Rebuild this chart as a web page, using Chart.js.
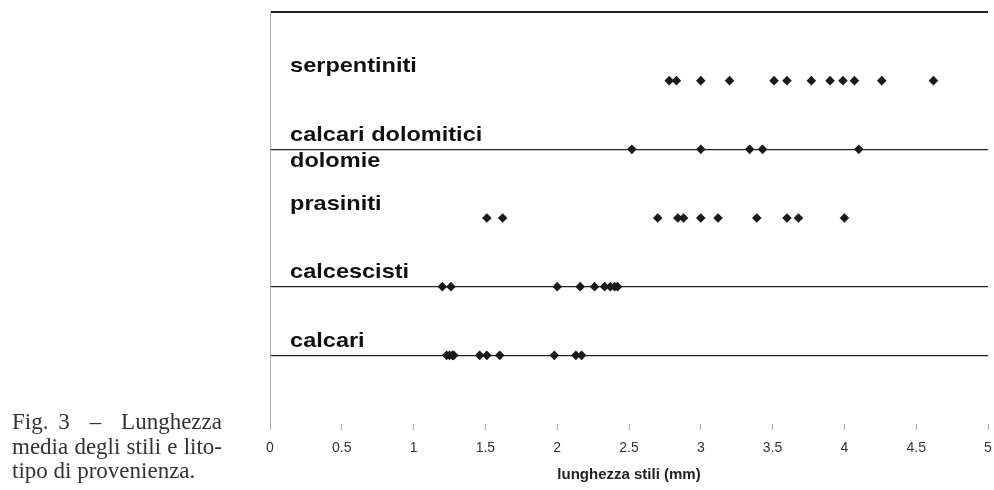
<!DOCTYPE html>
<html>
<head>
<meta charset="utf-8">
<script src="https://cdn.jsdelivr.net/npm/chart.js@4.4.0/dist/chart.umd.min.js"></script>
<style>
  html, body { margin: 0; padding: 0; background: #fff; }
  #wrap { position: relative; width: 994px; height: 490px; }
  #chart { position: absolute; left: 0; top: 0; }
  #caption {
    position: absolute; left: 12px; top: 410px; width: 210px;
    font-family: "Liberation Serif", "DejaVu Serif", serif;
    font-size: 23px; line-height: 24.5px; color: #333;
  }
  #caption div { text-align: justify; text-align-last: justify; white-space: nowrap; }
  #caption div.last { text-align-last: left; }
</style>
</head>
<body>
<div id="wrap">
  <canvas id="chart" width="994" height="490"></canvas>
  <div id="caption">
    <div>Fig. 3 &nbsp;–&nbsp; Lunghezza</div>
    <div>media degli stili e lito-</div>
    <div class="last">tipo di provenienza.</div>
  </div>
</div>
<script>
// Data (lunghezza stili in mm per litotipo)
const calcari = [1.23, 1.25, 1.27, 1.28, 1.46, 1.51, 1.60, 1.98, 2.13, 2.17];
const calcescisti = [1.20, 1.26, 2.00, 2.16, 2.26, 2.33, 2.37, 2.40, 2.42];
const prasiniti = [1.51, 1.62, 2.70, 2.84, 2.88, 3.00, 3.12, 3.39, 3.60, 3.68, 4.00];
const dolomie = [2.52, 3.00, 3.34, 3.43, 4.10];
const serpentiniti = [2.78, 2.83, 3.00, 3.20, 3.51, 3.60, 3.77, 3.90, 3.99, 4.07, 4.26, 4.62];

// row of each series on the vertical axis
const seriesRows = [1, 2, 3, 4, 5];
const seriesValues = [calcari, calcescisti, prasiniti, dolomie, serpentiniti];

// row labels
const labelNames = ['serpentiniti', 'calcari dolomitici', 'dolomie', 'prasiniti', 'calcescisti', 'calcari'];
const labelRows = [5, 4, 4, 3, 2, 1];
const labelSide = ['above', 'above', 'below', 'above', 'above', 'above'];
const labelX = 0.14;

// axes
const xTicks = [0, 0.5, 1, 1.5, 2, 2.5, 3, 3.5, 4, 4.5, 5];
const gridRows = [1, 2, 4, 6];
const xTitle = 'lunghezza stili (mm)';

const rowLabelPlugin = {
  id: 'rowLabels',
  afterDatasetsDraw(chart) {
    const { ctx, scales: { x, y } } = chart;
    ctx.save();
    ctx.font = 'bold 21px "Liberation Sans", Arial, sans-serif';
    ctx.fillStyle = '#111';
    ctx.textBaseline = 'middle';
    labelNames.forEach((name, i) => {
      const px = x.getPixelForValue(labelX);
      const py = y.getPixelForValue(labelRows[i]) + (labelSide[i] === 'below' ? 12 : -14);
      ctx.save();
      ctx.translate(px, py);
      ctx.scale(1.12, 1);
      ctx.fillText(name, 0, 0);
      ctx.restore();
    });
    ctx.restore();
  }
};

const datasets = seriesValues.map((vals, i) => ({
  data: vals.map(v => ({ x: v, y: seriesRows[i] })),
  pointStyle: 'rectRot',
  pointRadius: 4.8,
  backgroundColor: '#1a1a1a',
  borderWidth: 0,
  showLine: false
}));

new Chart(document.getElementById('chart'), {
  type: 'scatter',
  data: { datasets },
  options: {
    responsive: false,
    animation: false,
    events: [],
    layout: { padding: { left: 270, right: 6, top: 12, bottom: 0 } },
    plugins: { legend: { display: false }, tooltip: { enabled: false } },
    scales: {
      x: {
        type: 'linear',
        min: 0,
        max: 5,
        afterBuildTicks: s => { s.ticks = xTicks.map(v => ({ value: v })); },
        afterFit: s => { s.height = 66; s.paddingLeft = 0; s.paddingRight = 0; },
        border: { display: false },
        grid: { drawOnChartArea: false, drawTicks: true, tickLength: 6, color: '#aaa' },
        ticks: {
          padding: 10,
          color: '#333',
          font: { family: '"Liberation Sans", Arial, sans-serif', size: 14 },
          maxRotation: 0,
          callback: v => String(v)
        },
        title: {
          display: true,
          text: xTitle,
          color: '#222',
          font: { family: '"Liberation Sans", Arial, sans-serif', size: 15, weight: 'bold' },
          padding: { top: 0, bottom: 6 }
        }
      },
      y: {
        type: 'linear',
        min: 0,
        max: 6,
        afterFit: s => { s.width = 0; },
        ticks: { display: false, stepSize: 1 },
        border: { display: true, color: '#aaa', width: 1 },
        grid: {
          drawTicks: false,
          color: c => gridRows.includes(c.tick.value) ? '#222' : 'rgba(0,0,0,0)',
          lineWidth: c => c.tick.value === 6 ? 2 : 1.3
        }
      }
    }
  },
  plugins: [rowLabelPlugin]
});
</script>
</body>
</html>
